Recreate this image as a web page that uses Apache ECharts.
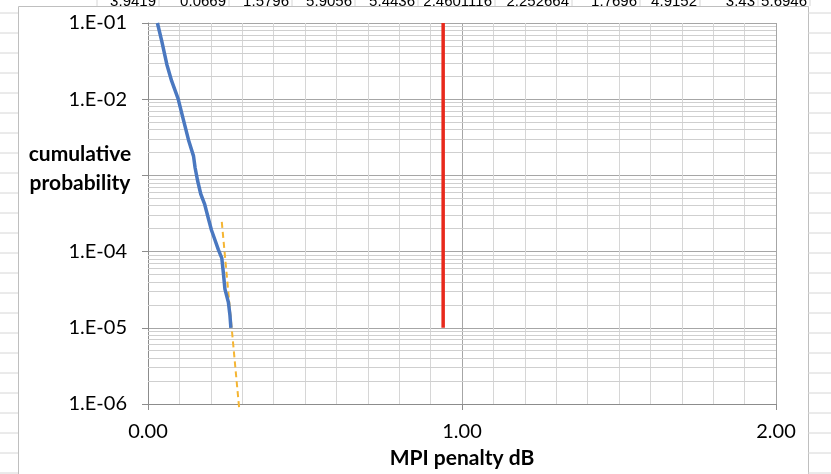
<!DOCTYPE html>
<html>
<head>
<meta charset="utf-8">
<script src="https://cdn.jsdelivr.net/npm/echarts@6/dist/echarts.min.js"></script>
<style>html,body{margin:0;padding:0;background:#fff;}#c{width:831px;height:474px;}</style>
</head>
<body>
<div id="c"></div>
<script>
// ---- data ----
const penaltyDb = [0.030,0.044,0.060,0.075,0.096,0.113,0.129,0.145,0.150,0.158,0.168,0.180,0.191,0.202,0.213,0.224,0.235,0.240,0.245,0.256,0.261,0.264];
const cumProb   = [1.0e-1,5.73e-2,2.86e-2,1.75e-2,1.01e-2,5.31e-3,2.92e-3,1.79e-3,1.26e-3,8.5e-4,5.7e-4,4.24e-4,2.85e-4,1.92e-4,1.43e-4,1.06e-4,8.2e-5,5.27e-5,3.22e-5,2.16e-5,1.46e-5,1.0e-5];
const fitX = [0.235, 0.291];
const fitP = [2.45e-4, 8.2e-7];
const limitX = [0.94, 0.94];
const limitP = [1e-1, 1e-5];
// label for 1E-03 is hidden behind the axis title in the original
const yTickLabels = ['1.E-01','1.E-02','','1.E-04','1.E-05','1.E-06'];
const xTickLabels = ['0.00','1.00','2.00'];
const decades = [1e-6,1e-5,1e-4,1e-3,1e-2];
const sheetCells = ['3.9419','0.0669','1.5796','5.9056','5.4436','2.4601116','2.252664','1.7696','4.9152','3.43','5.6946'];
const sheetSeps = [159,229,292,355,418,495,572,640,700,758,810];

const zip = (a,b) => a.map((v,i)=>[v,b[i]]);
const minorLines = [];
decades.forEach(d => { for (let k=2;k<=9;k++) minorLines.push({coords:[[0,d*k],[2,d*k]]}); });

const FONT = 'Lato';
const graphics = [];
for (let y=13; y<474; y+=20) {
  graphics.push({type:'line', shape:{x1:0,y1:y,x2:18,y2:y}, style:{stroke:'#d6d6d6',lineWidth:1}, silent:true});
  graphics.push({type:'line', shape:{x1:808,y1:y,x2:831,y2:y}, style:{stroke:'#d6d6d6',lineWidth:1}, silent:true});
}
graphics.push({type:'line', shape:{x1:97,y1:0,x2:97,y2:6}, style:{stroke:'#d6d6d6',lineWidth:1}, silent:true});
sheetSeps.forEach((s,i) => {
  graphics.push({type:'line', shape:{x1:s,y1:0,x2:s,y2:6}, style:{stroke:'#d6d6d6',lineWidth:1}, silent:true});
  graphics.push({type:'text', x:s-3, y:9, style:{text:sheetCells[i], font:'15px "Liberation Sans"', fill:'#000', textAlign:'right', textVerticalAlign:'bottom'}, silent:true});
});
graphics.push({type:'rect', shape:{x:18.5,y:6.5,width:790,height:480}, style:{fill:'#fff',stroke:'#bfbfbf',lineWidth:1}, z:-10, silent:true});
graphics.push({type:'text', x:80, y:154, style:{text:'cumulative', font:'bold 21px '+FONT, fill:'#000', textAlign:'center', textVerticalAlign:'middle'}});
graphics.push({type:'text', x:80, y:183, style:{text:'probability', font:'bold 21px '+FONT, fill:'#000', textAlign:'center', textVerticalAlign:'middle'}});

const chart = echarts.init(document.getElementById('c'), null, {renderer:'canvas'});
chart.setOption({
  backgroundColor:'#fff',
  animation:false,
  graphic:{elements:graphics},
  grid:{left:148,right:55,top:23,bottom:65},
  xAxis:{
    type:'value', min:0, max:2, interval:1,
    axisLine:{show:true, lineStyle:{color:'#8c8c8c',width:1}},
    axisTick:{show:true, length:6, lineStyle:{color:'#8c8c8c'}},
    axisLabel:{margin:18, fontFamily:FONT, fontSize:20, color:'#000', formatter:(v)=>xTickLabels[Math.round(v)]},
    splitLine:{show:true, lineStyle:{color:'#a6a6a6',width:1}},
    minorTick:{show:false, splitNumber:10},
    minorSplitLine:{show:true, lineStyle:{color:'#d6d6d6',width:1}},
    name:'MPI penalty dB', nameLocation:'middle', nameGap:44,
    nameTextStyle:{fontFamily:FONT, fontSize:21, fontWeight:'bold', color:'#000'}
  },
  yAxis:{
    type:'log', logBase:10, min:1e-6, max:1e-1,
    axisLine:{show:true, lineStyle:{color:'#8c8c8c',width:1}},
    axisTick:{show:true, length:6, lineStyle:{color:'#8c8c8c'}},
    axisLabel:{margin:21, fontFamily:FONT, fontSize:20, color:'#000',
      formatter:(v)=>yTickLabels[Math.round(-Math.log10(v))-1]},
    splitLine:{show:true, lineStyle:{color:'#a6a6a6',width:1}}
  },
  series:[
    {type:'lines', coordinateSystem:'cartesian2d', name:'minorGrid', z:1, silent:true, polyline:false,
     lineStyle:{color:'#cfcfcf', width:1, opacity:1}, data:minorLines},
    {type:'line', name:'fit', data:zip(fitX,fitP), showSymbol:false, clip:false, z:3,
     lineStyle:{color:'#f5b532', width:2, type:[6,4]}},
    {type:'line', name:'limit', data:zip(limitX,limitP), showSymbol:false, z:4,
     lineStyle:{color:'#e8291c', width:3.5}},
    {type:'line', name:'measured', data:zip(penaltyDb,cumProb), showSymbol:false, z:5,
     lineStyle:{color:'#4a78c0', width:3.5}}
  ]
});
</script>
</body>
</html>
